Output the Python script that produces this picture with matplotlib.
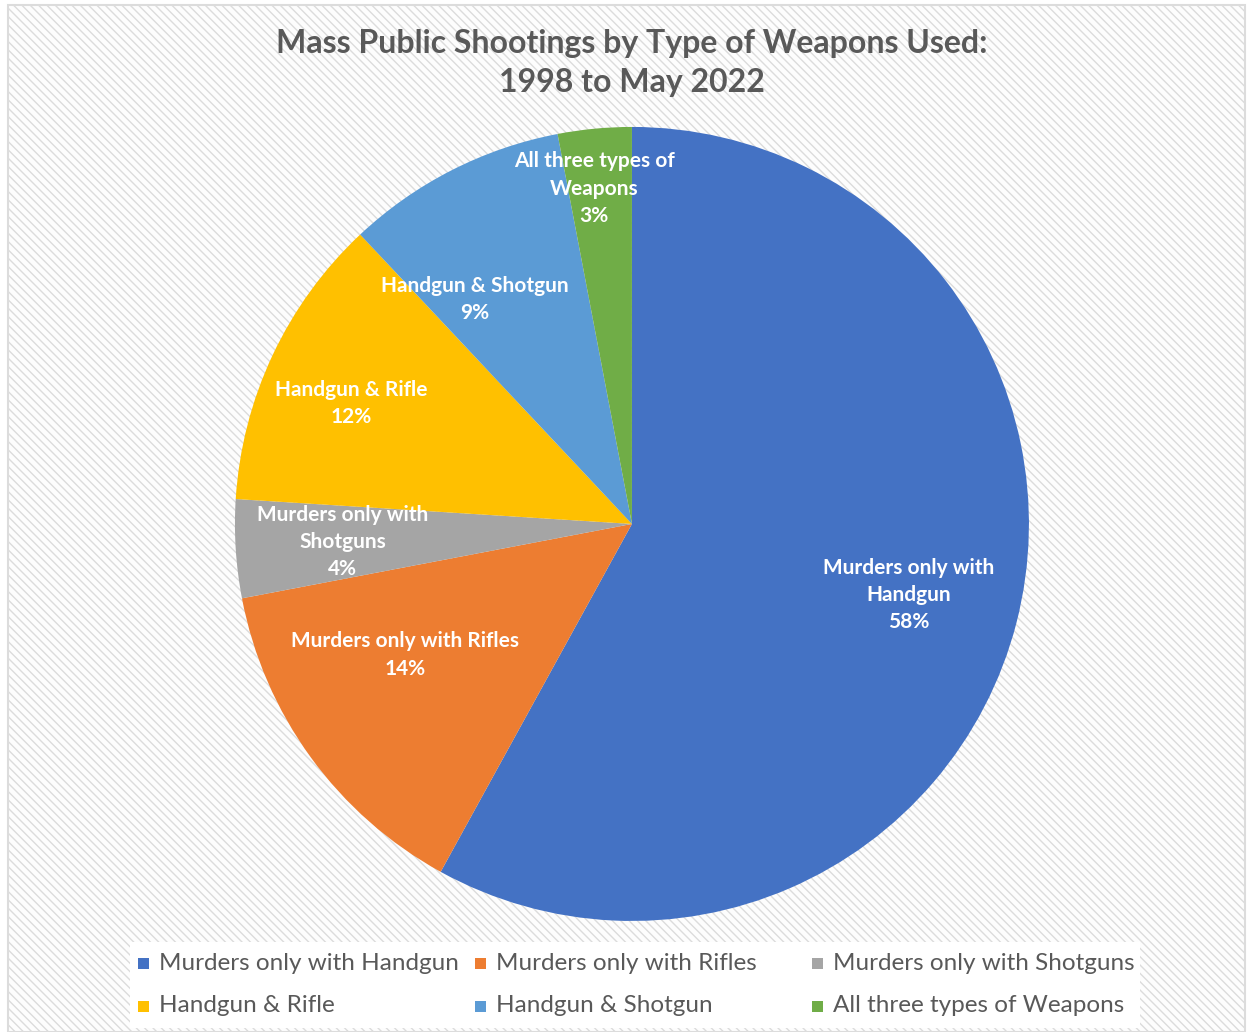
import numpy as np
import matplotlib.pyplot as plt
from matplotlib.patches import Rectangle

plt.rcParams['font.family'] = ['Lato', 'DejaVu Sans']
plt.rcParams['hatch.linewidth'] = 1.0
plt.rcParams['hatch.color'] = '#f1f1f1'

# Data
categories = ["Murders only with Handgun", "Murders only with Rifles",
              "Murders only with Shotguns", "Handgun & Rifle",
              "Handgun & Shotgun", "All three types of Weapons"]
label_text = ["Murders only with\nHandgun", "Murders only with Rifles",
              "Murders only with\nShotguns", "Handgun & Rifle",
              "Handgun & Shotgun", "All three types of\nWeapons"]
shares = [58, 14, 4, 12, 9, 3]
colors = ["#4472C4", "#ED7D31", "#A5A5A5", "#FFC000", "#5B9BD5", "#70AD47"]

# label placement (radius fraction, angle tweak in degrees)
label_pos = [(0.72, 0), (0.66, -6), (0.73, 0), (0.77, 2), (0.69, 8), (0.85, 1)]

W, H = 1251, 1032
fig = plt.figure(figsize=(W / 100, H / 100), dpi=100)
fig.patch.set_facecolor("white")

# striped chart-area background
bg = Rectangle((8 / W, 0), 1237 / W, 1 - 5 / H, transform=fig.transFigure,
               facecolor="#fdfdfd", edgecolor="#dcdcdc", hatch="\\\\\\\\",
               linewidth=1.5, zorder=-10)
fig.patches.append(bg)

ax = fig.add_axes([0.1878, 0.1076, 0.6347, 0.7694])
ax.set_zorder(1)
ax.set_aspect("equal")
wedges, _ = ax.pie(shares, colors=colors, startangle=90, counterclock=False,
                   radius=1.0, wedgeprops=dict(linewidth=0))
ax.set_xlim(-1, 1)
ax.set_ylim(-1, 1)
ax.axis("off")

for w, txt, val, (rf, dth) in zip(wedges, label_text, shares, label_pos):
    mid = np.deg2rad((w.theta1 + w.theta2) / 2 + dth)
    ax.text(rf * np.cos(mid), rf * np.sin(mid), f"{txt}\n{val}%",
            ha="center", va="center", color="white", fontsize=15,
            fontweight="bold", linespacing=1.45)

fig.text(0.505, 0.939, "Mass Public Shootings by Type of Weapons Used:\n1998 to May 2022",
         ha="center", va="center", fontsize=23, fontweight="bold",
         color="#595959", linespacing=1.45)

# legend: white panel with three equal-width columns, two rows
panel = Rectangle((130 / W, 1 - 1028 / H), 1010 / W, 86 / H, transform=fig.transFigure,
                  facecolor="white", edgecolor="none", zorder=-5)
fig.patches.append(panel)
col_x = [143, 480, 817]
row_y = [963, 1006]
for i, (name, c) in enumerate(zip(categories, colors)):
    cx = col_x[i % 3]
    cy = row_y[i // 3]
    fig.patches.append(Rectangle(((cx - 5.5) / W, 1 - (cy + 5.5) / H), 11 / W, 11 / H,
                                 transform=fig.transFigure, facecolor=c,
                                 edgecolor="none"))
    fig.text((cx + 16) / W, 1 - cy / H, name, ha="left", va="center",
             fontsize=17.5, color="#595959")

fig.savefig("out.png", dpi=100, facecolor=fig.get_facecolor())
